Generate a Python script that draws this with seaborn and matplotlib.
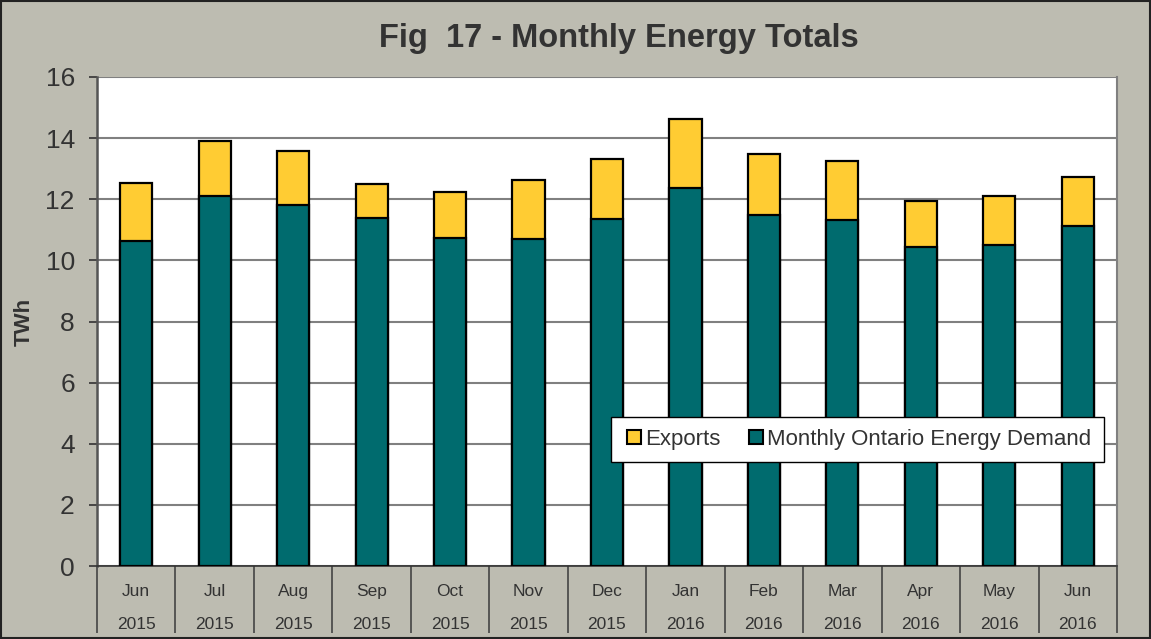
import matplotlib
matplotlib.use("Agg")
import matplotlib.pyplot as plt
import seaborn as sns
import pandas as pd
import numpy as np
from matplotlib.patches import Rectangle
from matplotlib.lines import Line2D

months = ["Jun", "Jul", "Aug", "Sep", "Oct", "Nov", "Dec", "Jan", "Feb", "Mar", "Apr", "May", "Jun"]
years = ["2015", "2015", "2015", "2015", "2015", "2015", "2015", "2016", "2016", "2016", "2016", "2016", "2016"]
demand = [10.63, 12.12, 11.80, 11.38, 10.72, 10.69, 11.35, 12.38, 11.48, 11.31, 10.44, 10.49, 11.12]
exports = [1.90, 1.80, 1.77, 1.11, 1.52, 1.93, 1.96, 2.26, 2.00, 1.94, 1.50, 1.62, 1.60]

labels = [f"{m}\n{y}" for m, y in zip(months, years)]
df = pd.DataFrame({"label": labels, "demand": demand, "exports": exports})
df["total"] = df["demand"] + df["exports"]

BG = "#BDBCB1"
TEAL = "#006B6E"
YELLOW = "#FFCC33"
TXT = "#333333"

sns.set_theme(style="white")
plt.rcParams["font.family"] = ["Liberation Sans", "DejaVu Sans"]

fig = plt.figure(figsize=(11.51, 6.39), dpi=100, facecolor=BG)
ax = fig.add_axes([97/1151, 1-566/639, (1117-97)/1151, (566-77)/639])
ax.set_facecolor("white")

sns.barplot(data=df, x="label", y="total", color=YELLOW, saturation=1, width=0.41,
            edgecolor="black", linewidth=1.6, ax=ax, zorder=3)
sns.barplot(data=df, x="label", y="demand", color=TEAL, saturation=1, width=0.41,
            edgecolor="black", linewidth=1.6, ax=ax, zorder=4)

ax.set_ylim(0, 16)
ax.set_xlim(-0.5, len(labels) - 0.5)
ax.set_yticks(np.arange(0, 17, 2))
ax.yaxis.grid(True, color="#808080", linewidth=1.5, zorder=0)
ax.set_axisbelow(True)
ax.tick_params(axis="y", labelsize=19, labelcolor=TXT, length=6, width=1.2, color="#333333", left=True, pad=10)
ax.tick_params(axis="x", which="major", length=0, labelsize=12.5, labelcolor=TXT, pad=13)
for t in ax.get_xticklabels():
    t.set_linespacing(2.5)
ax.set_xticks(np.arange(-0.5, len(labels)), minor=True)
ax.tick_params(axis="x", which="minor", length=48, width=1.2, color="#444444", bottom=True)

ax.spines["top"].set_visible(False)
ax.spines["left"].set_color("#555555")
ax.spines["left"].set_linewidth(1.8)
ax.spines["right"].set_color("#808080")
ax.spines["right"].set_linewidth(1.5)
ax.spines["bottom"].set_color("#333333")
ax.spines["bottom"].set_linewidth(1.2)

ax.set_xlabel("")
ax.set_ylabel("TWh", fontsize=16, fontweight="bold", color=TXT)
ax.yaxis.set_label_coords(-0.061, 0.5)

fig.suptitle("Fig  17 - Monthly Energy Totals", fontsize=23.5, fontweight="bold", color=TXT,
             x=619/1151, y=1-38/639, va="center")

handles = [
    Line2D([], [], marker="s", linestyle="none", markersize=9.5, markerfacecolor=YELLOW,
           markeredgecolor="black", markeredgewidth=1.5, label="Exports"),
    Line2D([], [], marker="s", linestyle="none", markersize=9.5, markerfacecolor=TEAL,
           markeredgecolor="black", markeredgewidth=1.5, label="Monthly Ontario Energy Demand"),
]
leg = ax.legend(handles=handles, loc="lower left", bbox_to_anchor=((611-97)/1020, (566-462)/489),
                ncol=2, fontsize=16, frameon=True, fancybox=False, handletextpad=0.0,
                columnspacing=1.1, handlelength=1.0, borderpad=0.55, borderaxespad=0,
                labelcolor=TXT, framealpha=1)
leg.get_frame().set_edgecolor("black")
leg.get_frame().set_facecolor("white")
leg.get_frame().set_linewidth(1.0)
leg.set_zorder(10)

fig.patches.append(Rectangle((0.001, 0.001), 0.998, 0.998, transform=fig.transFigure,
                             fill=False, edgecolor="#222222", linewidth=1.5))

fig.savefig("out.png", dpi=100, facecolor=BG)
